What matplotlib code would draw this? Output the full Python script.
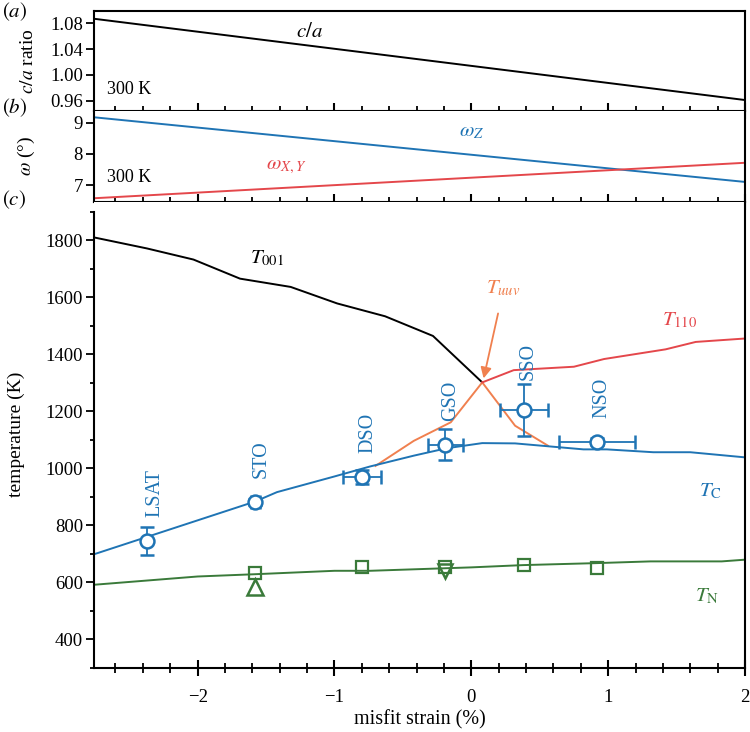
import numpy as np
import matplotlib
matplotlib.use("Agg")
import matplotlib.pyplot as plt
from matplotlib.ticker import MultipleLocator

plt.rcParams['font.family'] = ['Liberation Serif', 'DejaVu Serif']
plt.rcParams['mathtext.fontset'] = 'stix'
plt.rcParams['font.size'] = 13.5

BLUE = '#1f74b4'
RED = '#e4474b'
ORANGE = '#f0804f'
GREEN = '#3a7a3a'

# panel (a): c/a ratio at 300 K
strain_ab = [-2.757, 2.0]
ca_ratio = [1.087, 0.961]

# panel (b): octahedral rotation angles at 300 K
omega_z = [9.17, 7.11]
omega_xy = [6.59, 7.72]

# panel (c): computed transition temperatures
t001_x = [-2.75, -2.37, -2.03, -1.69, -1.32, -0.98, -0.63, -0.28, 0.08]
t001_y = [1809, 1771, 1732, 1665, 1636, 1578, 1533, 1464, 1301]

t110_x = [0.08, 0.31, 0.75, 0.97, 1.42, 1.64, 2.0]
t110_y = [1301, 1344, 1356, 1383, 1417, 1443, 1455]

tuuv_x = [-0.70, -0.42, -0.15, 0.08, 0.32, 0.56]
tuuv_y = [1008, 1096, 1161, 1301, 1149, 1079]

tc_x = [-2.757, -1.58, -1.42, -1.0, -0.74, -0.42, -0.18, 0.08, 0.32, 0.82, 0.99, 1.33, 1.60, 2.0]
tc_y = [698, 883, 916, 971, 1006, 1044, 1070, 1088, 1087, 1066, 1066, 1056, 1056, 1038]

tn_x = [-2.757, -2.0, -1.58, -1.0, -0.74, 0.0, 0.38, 0.92, 1.31, 1.83, 2.0]
tn_y = [591, 620, 628, 640, 640, 652, 660, 667, 673, 673, 679]

# measured data on substrates
substrates = ['LSAT', 'STO', 'DSO', 'GSO', 'SSO', 'NSO']
sub_strain = [-2.37, -1.577, -0.798, -0.19, 0.387, 0.918]
tc_meas = [745, 881, 968, 1082, 1204, 1093]
tc_xerr = [0.0, 0.03, 0.14, 0.13, 0.176, 0.28]
tc_yerr = [50, 10, 25, 55, 90, 12]
label_y = [913, 1033, 1123, 1236, 1374, 1248]
label_dx = [0.06, 0.04, 0.04, 0.04, 0.03, 0.04]

tn_sq_x = [-1.577, -0.798, -0.19, 0.387, 0.918]
tn_sq_y = [632, 652, 652, 660, 650]
tn_up = (-1.577, 582)
tn_down = (-0.19, 638)

fig = plt.figure(figsize=(7.5, 7.32), dpi=100)
L, R = 94 / 750, 745 / 750
H = 732
ax_a = fig.add_axes([L, 1 - 111 / H, R - L, (111 - 10.7) / H])
ax_b = fig.add_axes([L, 1 - 201.7 / H, R - L, (201.7 - 111) / H])
ax_c = fig.add_axes([L, 1 - 667.7 / H, R - L, (667.7 - 201.7) / H])

xlim = (-2.757, 2.0)
for ax in (ax_a, ax_b, ax_c):
    ax.set_xlim(*xlim)
    ax.xaxis.set_major_locator(MultipleLocator(1))
    ax.xaxis.set_minor_locator(MultipleLocator(0.2))
    ax.tick_params(axis='x', which='major', direction='inout', length=12, width=1.5, top=False)
    ax.tick_params(axis='x', which='minor', direction='inout', length=6.5, width=1.3, top=False)
    ax.tick_params(axis='y', which='major', direction='out', length=6, width=1.3, right=False, pad=2)
    ax.tick_params(axis='y', which='minor', direction='out', length=3.2, width=1.3, right=False)
    for s in ax.spines.values():
        s.set_linewidth(1.5)

# (a)
ax_a.plot(strain_ab, ca_ratio, color='black', lw=1.4)
ax_a.set_ylim(0.944, 1.0995)
ax_a.set_yticks([0.96, 1.00, 1.04, 1.08])
ax_a.set_yticklabels(['0.96', '1.00', '1.04', '1.08'])
ax_a.tick_params(axis='x', labelbottom=False)
ax_a.set_ylabel(r'$c/a$ ratio', fontsize=14)
ax_a.yaxis.set_label_coords(-0.087, 0.5)
ax_a.text(-1.18, 1.066, r'$c/a$', fontsize=15, ha='center', va='center')
ax_a.text(-2.66, 0.977, '300 K', fontsize=13, ha='left', va='center')

# (b)
ax_b.plot(strain_ab, omega_z, color=BLUE, lw=1.4)
ax_b.plot(strain_ab, omega_xy, color=RED, lw=1.4)
ax_b.set_ylim(6.48, 9.37)
ax_b.set_yticks([7, 8, 9])
ax_b.tick_params(axis='x', labelbottom=False)
ax_b.spines['top'].set_visible(False)
ax_b.set_ylabel(r'$\omega$ (°)', fontsize=14)
ax_b.yaxis.set_label_coords(-0.087, 0.5)
ax_b.text(0.0, 8.7, r'$\omega_{Z}$', color=BLUE, fontsize=15, ha='center', va='center')
ax_b.text(-1.35, 7.6, r'$\omega_{X,Y}$', color=RED, fontsize=15, ha='center', va='center')
ax_b.text(-2.66, 7.25, '300 K', fontsize=13, ha='left', va='center')

# (c)
ax_c.plot(t001_x, t001_y, color='black', lw=1.4)
ax_c.plot(tuuv_x, tuuv_y, color=ORANGE, lw=1.4)
ax_c.plot(t110_x, t110_y, color=RED, lw=1.4)
ax_c.plot(tc_x, tc_y, color=BLUE, lw=1.4)
ax_c.plot(tn_x, tn_y, color=GREEN, lw=1.4)

ax_c.errorbar(sub_strain, tc_meas, xerr=tc_xerr, yerr=tc_yerr, fmt='o', ms=10,
              mfc='white', mec=BLUE, mew=1.8, ecolor=BLUE, elinewidth=1.3,
              capsize=5, capthick=1.3, zorder=5)
ax_c.plot(tn_sq_x, tn_sq_y, 's', ms=9, mfc='none', mec=GREEN, mew=1.6, zorder=5)
ax_c.plot(*tn_up, '^', ms=11, mfc='none', mec=GREEN, mew=1.8, zorder=5)
ax_c.plot(*tn_down, 'v', ms=10, mfc='none', mec=GREEN, mew=1.8, zorder=5)

for name, x, y, dx in zip(substrates, sub_strain, label_y, label_dx):
    ax_c.text(x + dx, y, name, color=BLUE, rotation=90, fontsize=14.5,
              ha='center', va='center')

ax_c.text(-1.49, 1737, r'$T_{\rm 001}$', fontsize=15, ha='center', va='center')
ax_c.text(1.525, 1519, r'$T_{\rm 110}$', color=RED, fontsize=15, ha='center', va='center')
ax_c.text(1.745, 918, r'$T_{\rm C}$', color=BLUE, fontsize=15, ha='center', va='center')
ax_c.text(1.72, 550, r'$T_{\rm N}$', color=GREEN, fontsize=15, ha='center', va='center')
ax_c.annotate(r'$T_{uuv}$', xy=(0.09, 1315), xytext=(0.236, 1630),
              color=ORANGE, fontsize=15, ha='center', va='center',
              arrowprops=dict(arrowstyle='-|>', color=ORANGE, lw=1.3,
                              mutation_scale=16, shrinkA=9, shrinkB=0))

ax_c.set_ylim(300, 1935)
ax_c.yaxis.set_minor_locator(MultipleLocator(100))
ax_c.set_yticks([400, 600, 800, 1000, 1200, 1400, 1600, 1800])
ax_c.spines['top'].set_visible(False)
ax_c.spines['left'].set_bounds(300, 1900)
ax_c.set_xticks([-2, -1, 0, 1, 2])
ax_c.set_xticklabels(['\u22122', '\u22121', '0', '1', '2'])
ax_c.tick_params(axis='x', which='major', pad=9)
ax_c.set_xlabel('misfit strain (%)', fontsize=14.5, labelpad=3)
ax_c.set_ylabel('temperature (K)', fontsize=14)
ax_c.yaxis.set_label_coords(-0.106, 0.5)

fig.text(0.003, 1 - 12 / H, '$(a)$', fontsize=15, va='center')
fig.text(0.003, 1 - 108 / H, '$(b)$', fontsize=15, va='center')
fig.text(0.003, 1 - 200 / H, '$(c)$', fontsize=15, va='center')

fig.savefig('out.png', dpi=100)
